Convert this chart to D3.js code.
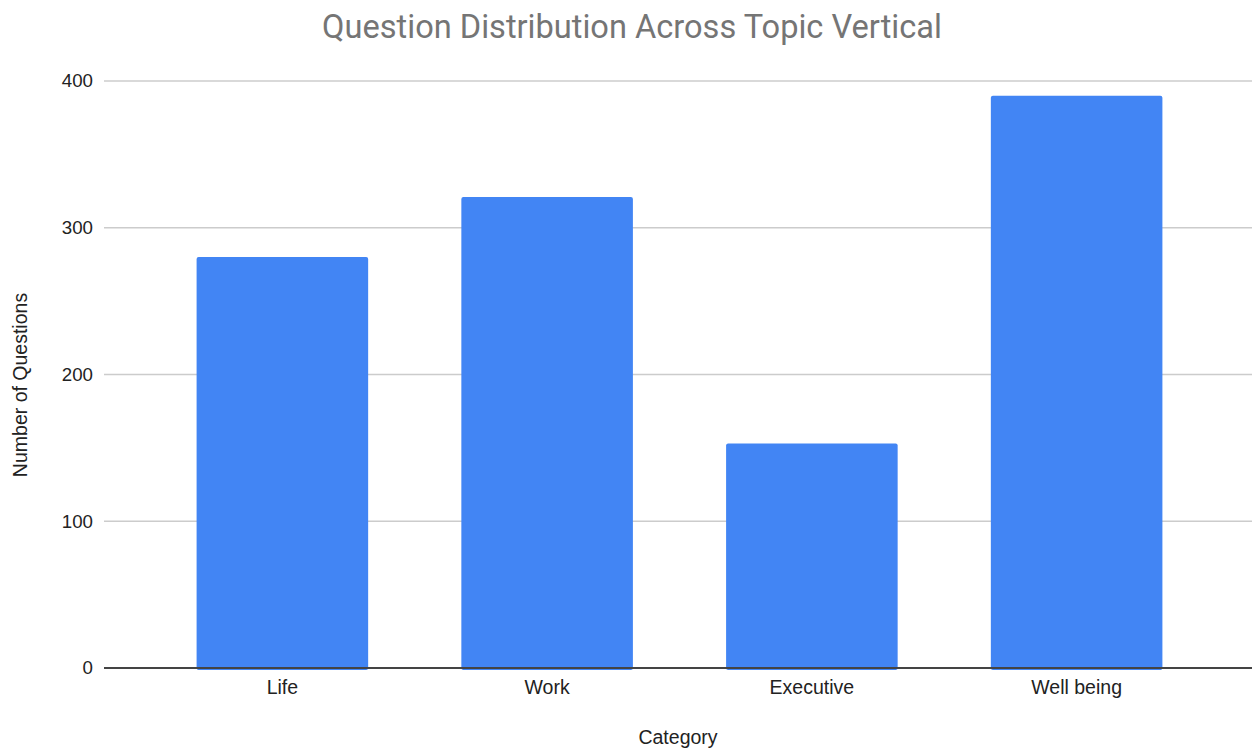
<!DOCTYPE html>
<html>
<head>
<meta charset="utf-8">
<script src="https://cdn.jsdelivr.net/npm/d3@7/dist/d3.min.js"></script>
<style>
  html, body { margin: 0; padding: 0; background: #fff; }
  svg { display: block; }
</style>
</head>
<body>
<svg id="chart" width="1252" height="749"></svg>
<script>
// Question counts per topic vertical
const categories = ["Life", "Work", "Executive", "Well being"];
const questionCounts = [280, 321, 153, 390];
const yTicks = [0, 100, 200, 300, 400];

const W = 1252, H = 749;
const plot = { left: 104, right: 1252, top: 81, bottom: 668 };
const labelFont = "Liberation Sans, Arial, sans-serif";

const svg = d3.select("#chart");

const x = d3.scaleBand()
  .domain(categories)
  .range([150, 1209])
  .paddingInner(0.352)
  .paddingOuter(0.176);

const y = d3.scaleLinear()
  .domain([0, 400])
  .range([plot.bottom, plot.top]);

// Gridlines
svg.append("g")
  .selectAll("line")
  .data(yTicks.filter(d => d !== 0))
  .join("line")
  .attr("x1", plot.left)
  .attr("x2", plot.right)
  .attr("y1", d => y(d))
  .attr("y2", d => y(d))
  .attr("stroke", "#cccccc")
  .attr("stroke-width", 1.5);

// Y tick labels
const yAxis = d3.axisLeft(y).tickValues(yTicks).tickSize(0).tickPadding(11);
const gy = svg.append("g")
  .attr("transform", `translate(${plot.left},0)`)
  .call(yAxis);
gy.select(".domain").remove();
gy.selectAll("text")
  .attr("font-family", labelFont)
  .attr("font-size", 18.7)
  .attr("fill", "#222");

// Bars
svg.append("g")
  .selectAll("rect")
  .data(categories.map((c, i) => ({ c, v: questionCounts[i] })))
  .join("rect")
  .attr("x", d => x(d.c))
  .attr("y", d => y(d.v))
  .attr("width", x.bandwidth())
  .attr("height", d => y(0) - y(d.v) + 2)
  .attr("rx", 2)
  .attr("fill", "#4285f4");

// Baseline
svg.append("line")
  .attr("x1", plot.left)
  .attr("x2", plot.right)
  .attr("y1", y(0))
  .attr("y2", y(0))
  .attr("stroke", "#444")
  .attr("stroke-width", 2);

// X category labels
const xAxis = d3.axisBottom(x).tickSize(0).tickPadding(12);
const gx = svg.append("g")
  .attr("transform", `translate(0,${plot.bottom})`)
  .call(xAxis);
gx.select(".domain").remove();
gx.selectAll("text")
  .attr("font-family", labelFont)
  .attr("font-size", 19.5)
  .attr("fill", "#222");

// Title
svg.append("text")
  .attr("x", 632)
  .attr("y", 38)
  .attr("text-anchor", "middle")
  .attr("font-family", "Roboto, Liberation Sans, sans-serif")
  .attr("font-size", 32.6)
  .attr("fill", "#757575")
  .text("Question Distribution Across Topic Vertical");

// Axis titles
svg.append("text")
  .attr("x", 678)
  .attr("y", 744)
  .attr("text-anchor", "middle")
  .attr("font-family", labelFont)
  .attr("font-size", 19.5)
  .attr("fill", "#222")
  .text("Category");

svg.append("text")
  .attr("transform", "translate(27,385) rotate(-90)")
  .attr("text-anchor", "middle")
  .attr("font-family", labelFont)
  .attr("font-size", 19.5)
  .attr("fill", "#222")
  .text("Number of Questions");
</script>
</body>
</html>
